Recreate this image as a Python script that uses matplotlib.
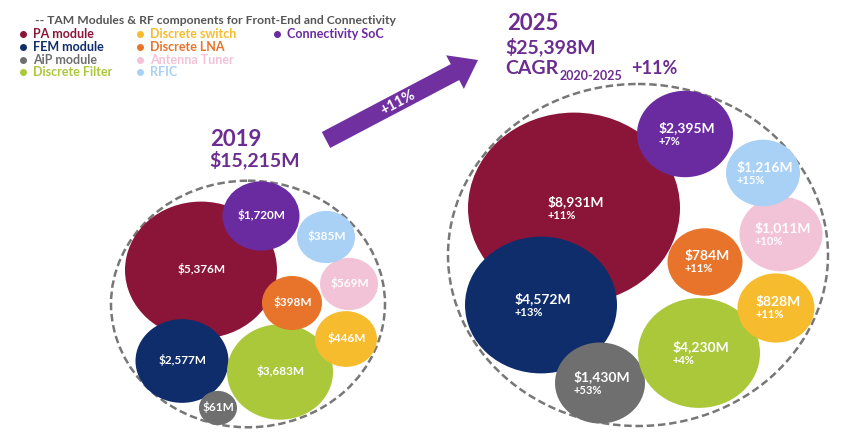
import matplotlib.pyplot as plt
from matplotlib.patches import Ellipse, FancyArrow

# TAM by segment, $M
categories = ["PA module", "FEM module", "AiP module", "Discrete Filter",
              "Discrete switch", "Discrete LNA", "Antenna Tuner", "RFIC",
              "Connectivity SoC"]
tam_2019 = [5376, 2577, 61, 3683, 446, 398, 569, 385, 1720]
tam_2025 = [8931, 4572, 1430, 4230, 828, 784, 1011, 1216, 2395]
cagr = [11, 13, 53, 4, 11, 11, 10, 15, 7]
total_2019 = 15215
total_2025 = 25398
total_cagr = 11

colors = ["#8a1538", "#0f2d6b", "#6f6f6f", "#abc83b", "#f7bc2e",
          "#e8742c", "#f2c2d7", "#a9d0f5", "#6a2ba0"]
title_col = "#6b2d90"

# bubble layout (pixel space), picked by hand like the original
centers_2019 = [(201, 270), (182, 361), (218, 408), (280, 372), (346, 339),
                (292, 303), (349, 284), (326, 237), (261, 216)]
radii_2019 = [76, 46.5, 19, 53, 31, 30, 29, 29, 38.5]
centers_2025 = [(574, 208), (541, 305), (600, 383), (699, 353), (776, 308),
                (705, 262), (781, 234), (763, 173), (685, 134)]
radii_2025 = [106, 76, 45, 61, 38.5, 37.5, 41.5, 37, 48]
squash = 0.9  # source image is squeezed vertically

plt.rcParams['font.family'] = ['Lato', 'DejaVu Sans']

fig = plt.figure(figsize=(8.59, 4.36), dpi=100)
ax = fig.add_axes([0, 0, 1, 1])
ax.set_xlim(0, 859)
ax.set_ylim(436, 0)
ax.axis('off')

# dashed outlines
for (cx, cy), rx in [((248, 304), 137), ((638, 255), 190)]:
    ax.add_patch(Ellipse((cx, cy), 2 * rx, 2 * rx * squash, fill=False,
                         ec="#777777", lw=1.8, ls=(0, (3, 1.5))))

# 2019 bubbles
for v, c, (cx, cy), r in zip(tam_2019, colors, centers_2019, radii_2019):
    ax.add_patch(Ellipse((cx, cy), 2 * r, 2 * r * squash, color=c, lw=0))
    ax.text(cx + 1, cy - 1, f"${v:,}M", color="white", fontsize=8.5,
            fontweight="bold", ha="center", va="center")

# 2025 bubbles
for v, g, c, (cx, cy), r in zip(tam_2025, cagr, colors, centers_2025, radii_2025):
    ax.add_patch(Ellipse((cx, cy), 2 * r, 2 * r * squash, color=c, lw=0))
    t = ax.text(cx + 2, cy - 6, f"${v:,}M", color="white", fontsize=10,
                fontweight="bold", ha="center", va="center")
    ax.annotate(f"+{g}%", xy=(0, 0), xycoords=t, xytext=(0, -1),
                textcoords="offset points", color="white", fontsize=8,
                fontweight="bold", ha="left", va="top")

# growth arrow
ax.add_patch(FancyArrow(326, 140, 152, -80, width=18, head_width=38,
                        head_length=26, length_includes_head=True,
                        color="#7030a0", lw=0))
ax.text(398, 103, f"+{total_cagr}%", color="white", fontsize=10.5,
        fontweight="bold", rotation=28, ha="center", va="center")

# titles
ax.text(210, 139, "2019", color=title_col, fontsize=16, fontweight="bold",
        va="center", ha="left")
ax.text(209, 160, f"${total_2019:,}M", color=title_col, fontsize=14,
        fontweight="bold", va="center", ha="left")
ax.text(507, 23, "2025", color=title_col, fontsize=16, fontweight="bold",
        va="center", ha="left")
ax.text(505, 47, f"${total_2025:,}M", color=title_col, fontsize=14,
        fontweight="bold", va="center", ha="left")
cg = ax.text(505, 68, "CAGR", color=title_col, fontsize=14, fontweight="bold",
             va="center", ha="left")
sub = ax.annotate("2020-2025", xy=(1, 0), xycoords=cg, xytext=(1, -4),
                  textcoords="offset points", color=title_col, fontsize=9,
                  fontweight="bold", ha="left", va="bottom")
ax.annotate(f"+{total_cagr}%", xy=(1, 0), xycoords=sub, xytext=(6, 4),
            textcoords="offset points", color=title_col, fontsize=13,
            fontweight="bold", ha="left", va="bottom")

# legend
ax.text(35, 20, "-- TAM Modules & RF components for Front-End and Connectivity",
        color="#555555", fontsize=8.7, fontweight="bold", va="center")
leg_x = [23, 23, 23, 23, 140, 140, 140, 140, 277]
leg_y = [34, 47, 60, 72, 34, 47, 60, 72, 34]
for name, c, lx, ly in zip(categories, colors, leg_x, leg_y):
    ax.plot(lx, ly, "o", ms=4, color=c)
    ax.text(lx + 10, ly, name, color=c, fontsize=9, fontweight="bold",
            va="center", ha="left")

fig.savefig("out.png", dpi=100, facecolor="white")
